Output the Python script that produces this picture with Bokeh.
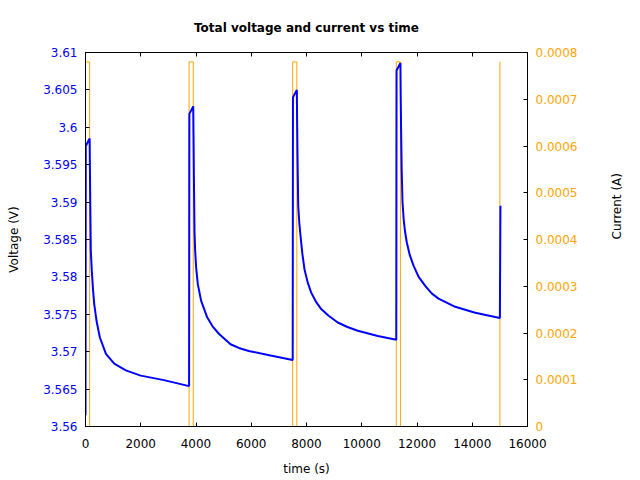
from bokeh.plotting import figure
from bokeh.models import Range1d, LinearAxis, FixedTicker, CustomJSTickFormatter
from bokeh.embed import file_html
from bokeh.resources import INLINE

# ---- data ----
time_v = [0, 10, 150, 160, 172, 192, 229, 270, 315, 400, 520, 740, 1040, 1460,
          2000, 2840, 3750,
          3760, 3900, 3910, 3925, 3946, 3970, 4006, 4067, 4187, 4404, 4600, 4827,
          5249, 5550, 5912, 6697, 7500,
          7510, 7650, 7660, 7675, 7700, 7740, 7783, 7850, 7928, 8040, 8170, 8340,
          8532, 8800, 9133, 9480, 9857, 10581, 11250,
          11260, 11400, 11410, 11425, 11445, 11475, 11520, 11570, 11631, 11740,
          11874, 12060, 12297, 12530, 12779, 13383, 14107, 15000,
          15020]
voltage = [3.5615, 3.5975, 3.5985, 3.5945, 3.5900, 3.5835, 3.5808, 3.5784, 3.5764,
           3.5741, 3.5719, 3.5697, 3.5684, 3.5675, 3.5668, 3.5662, 3.5654,
           3.6018, 3.6028, 3.5990, 3.5930, 3.5860, 3.5835, 3.5812, 3.5790, 3.5768,
           3.5746, 3.5734, 3.5724, 3.5710, 3.5705, 3.5701, 3.5695, 3.5689,
           3.6040, 3.6050, 3.6010, 3.5960, 3.5895, 3.5872, 3.5855, 3.5831, 3.5810,
           3.5793, 3.5779, 3.5767, 3.5757, 3.5748, 3.5739, 3.5733, 3.5728, 3.5721,
           3.5716,
           3.6076, 3.6086, 3.6045, 3.5995, 3.5945, 3.5900, 3.5876, 3.5860, 3.5846,
           3.5829, 3.5815, 3.5800, 3.5788, 3.5778, 3.5771, 3.5760, 3.5752, 3.5745,
           3.5895]

time_i = [0, 0, 150, 150, 3750, 3750, 3900, 3900, 7500, 7500, 7650, 7650,
          11250, 11250, 11400, 11400, 15000, 15000, 15010]
current = [0, 0.00078, 0.00078, 0, 0, 0.00078, 0.00078, 0, 0, 0.00078, 0.00078, 0,
           0, 0.00078, 0.00078, 0, 0, 0.00078, 0.00078]

x_ticks = [0, 2000, 4000, 6000, 8000, 10000, 12000, 14000, 16000]
v_ticks = [3.56, 3.565, 3.57, 3.575, 3.58, 3.585, 3.59, 3.595, 3.6, 3.605, 3.61]
i_ticks = [0, 0.0001, 0.0002, 0.0003, 0.0004, 0.0005, 0.0006, 0.0007, 0.0008]

BLUE = "#0000ff"
ORANGE = "#ffa500"
FONT = "DejaVu Sans"

p = figure(width=640, height=480, output_backend="svg", toolbar_location=None,
           x_range=Range1d(0, 16000), y_range=Range1d(3.56, 3.61),
           min_border_left=85, min_border_right=113, min_border_top=51,
           min_border_bottom=54, title="Total voltage and current vs time")
p.extra_y_ranges = {"cur": Range1d(0, 0.0008)}

p.title.text_font = FONT
p.title.text_font_size = "12px"
p.title.text_font_style = "bold"
p.title.text_color = "black"
p.title.align = "center"
p.title.text_line_height = 1.0
p.title.standoff = 36

p.xgrid.visible = False
p.ygrid.visible = False
p.outline_line_color = "black"
p.outline_line_alpha = 1
p.outline_line_width = 1
p.background_fill_color = "white"
p.border_fill_color = "white"

fmt_code = "var s = tick.toFixed(4); s = s.replace(/0+$/, ''); s = s.replace(/\\.$/, ''); return s;"

def style_axis(ax, color):
    ax.major_tick_in = 4
    ax.major_tick_out = 0
    ax.minor_tick_in = 0
    ax.minor_tick_out = 0
    ax.major_tick_line_color = "black"
    ax.axis_line_color = "black"
    ax.major_label_text_font = FONT
    ax.major_label_text_font_size = "12px"
    ax.major_label_text_color = color
    ax.major_label_standoff = 8
    ax.axis_label_text_font = FONT
    ax.axis_label_text_font_size = "12px"
    ax.axis_label_text_font_style = "normal"
    ax.axis_label_text_color = "black"

# bottom x axis
xa = p.xaxis[0]
xa.ticker = FixedTicker(ticks=x_ticks)
xa.axis_label = "time (s)"
style_axis(xa, "black")
xa.major_label_standoff = 12
xa.axis_label_standoff = 11

# left voltage axis
ya = p.yaxis[0]
ya.ticker = FixedTicker(ticks=v_ticks)
ya.formatter = CustomJSTickFormatter(code=fmt_code)
ya.axis_label = "Voltage (V)"
style_axis(ya, BLUE)
ya.axis_label_standoff = 19

# right current axis
ra = LinearAxis(y_range_name="cur", ticker=FixedTicker(ticks=i_ticks),
                formatter=CustomJSTickFormatter(code=fmt_code), axis_label="Current (A)")
style_axis(ra, ORANGE)
ra.axis_label_standoff = 37
ra.axis_label_orientation = 1.5708
p.add_layout(ra, "right")

# top mirror ticks
ta = LinearAxis(ticker=FixedTicker(ticks=x_ticks),
                formatter=CustomJSTickFormatter(code="return '';"))
style_axis(ta, "black")
ta.major_label_standoff = 0
ta.major_label_text_font_size = "1px"
p.add_layout(ta, "above")

p.line(time_i, current, y_range_name="cur", line_color=ORANGE, line_width=1)
p.line(time_v, voltage, line_color=BLUE, line_width=2)

open("out.html", "w").write(file_html(p, INLINE))
